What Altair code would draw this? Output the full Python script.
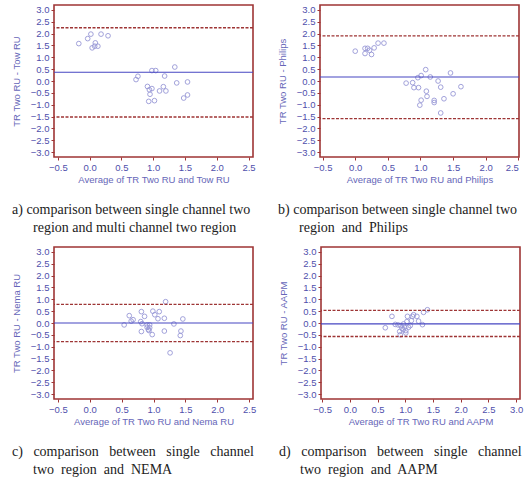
import altair as alt
import pandas as pd

# ---- data ----
a_x = [-0.17, -0.03, 0.02, 0.04, 0.09, 0.08, 0.13, 0.18, 0.29,
       0.73, 0.76, 0.98, 1.04, 1.34, 1.18, 0.91, 0.94, 0.98, 0.95,
       1.10, 1.16, 1.20, 1.37, 1.54, 0.93, 1.02, 1.48, 1.54]
a_y = [1.58, 1.79, 1.98, 1.40, 1.61, 1.47, 1.47, 1.98, 1.91,
       0.06, 0.20, 0.44, 0.44, 0.59, 0.21, -0.23, -0.37, -0.32, -0.56,
       -0.42, -0.24, -0.42, -0.08, -0.04, -0.86, -0.83, -0.72, -0.59]
a_lines = [0.37, 2.25, -1.52]

b_x = [0.00, 0.15, 0.19, 0.22, 0.15, 0.25, 0.29, 0.35, 0.44,
       0.78, 0.88, 0.90, 0.97, 0.96, 1.01, 1.08, 1.15, 1.09, 1.10, 1.01,
       0.99, 1.21, 1.21, 1.27, 1.31, 1.36, 1.46, 1.50, 1.62, 1.31]
b_y = [1.26, 1.38, 1.38, 1.30, 1.16, 1.12, 1.40, 1.60, 1.60,
       -0.09, -0.07, -0.28, -0.28, 0.14, 0.23, 0.48, 0.17, -0.43, -0.65, -0.81,
       -1.02, -0.82, -0.91, 0.00, -0.26, -0.75, 0.34, -0.54, -0.24, -1.35]
b_lines = [0.17, 1.91, -1.59]

c_x = [0.54, 0.62, 0.65, 0.68, 0.81, 0.80, 0.82, 0.81, 0.86, 0.90,
       0.90, 0.92, 0.94, 0.94, 0.93, 0.98, 0.99, 1.02, 1.07, 1.09,
       1.17, 1.19, 1.17, 1.32, 1.43, 1.42, 1.46, 1.26]
c_y = [-0.08, 0.31, 0.08, 0.14, 0.48, 0.06, -0.03, -0.36, 0.28, -0.08,
       -0.18, -0.28, -0.08, -0.20, -0.32, -0.49, 0.50, 0.35, 0.18, 0.48,
       0.20, 0.90, -0.34, -0.04, -0.34, -0.53, 0.17, -1.26]
c_lines = [0.00, 0.79, -0.79]

d_x = [0.64, 0.76, 0.82, 0.87, 0.90, 0.91, 0.92, 0.94, 0.97, 1.01,
       1.01, 1.03, 1.04, 1.06, 1.09, 1.11, 1.13, 1.15, 1.21, 1.24,
       1.31, 1.33, 1.40, 0.99, 0.96]
d_y = [-0.20, 0.28, -0.06, -0.08, -0.36, -0.50, -0.11, -0.22, -0.04, -0.32,
       -0.42, 0.06, 0.28, -0.18, -0.11, 0.10, 0.28, 0.35, 0.28, 0.08,
       -0.07, 0.45, 0.56, -0.18, -0.28]
d_lines = [-0.04, 0.53, -0.57]

y_ticks = [-3.0, -2.5, -2.0, -1.5, -1.0, -0.5, 0.0, 0.5, 1.0, 1.5, 2.0, 2.5, 3.0]
x_ticks_abc = [-0.5, 0.0, 0.5, 1.0, 1.5, 2.0, 2.5]
x_ticks_d = [-0.5, 0.0, 0.5, 1.0, 1.5, 2.0, 2.5, 3.0]

NB = "\u00a0"
ZW = "\u200b"
IND = ZW + NB * 6
W3 = NB * 3
captions = {
    "a": ["a) comparison between single channel two",
          IND + "region and multi channel two region"],
    "b": ["b) comparison between single channel two",
          IND + "region" + NB + " and" + NB + " Philips"],
    "c": ["c)" + W3 + "comparison" + W3 + "between" + W3 + "single" + W3 + "channel",
          IND + "two" + NB + " region" + NB + " and" + NB + " NEMA"],
    "d": ["d)" + W3 + "comparison" + W3 + "between" + W3 + "single" + W3 + "channel",
          IND + "two" + NB + " region" + NB + " and" + NB + " AAPM"],
}

RED = "#9e3535"
BLUE = "#4f4fab"
TITLE_BLUE = "#6666b8"
PT = "#9797d6"


def panel(xs, ys, lines, xtitle, ytitle, xticks, xdom, caption):
    pts = pd.DataFrame({"x": xs, "y": ys})
    xscale = alt.Scale(domain=xdom, nice=False, zero=False)
    yscale = alt.Scale(domain=[-3.21, 3.21], nice=False, zero=False)
    xaxis = alt.Axis(values=xticks, tickCount=len(xticks), format=".1f", title=xtitle,
                     grid=False, domain=False, tickColor=RED, tickSize=3, labelColor=BLUE,
                     labelFontSize=9.5, labelFont="Liberation Sans", labelPadding=2,
                     labelOverlap=False,
                     titleColor=TITLE_BLUE, titleFontSize=9.5, titleFont="Liberation Sans",
                     titleFontWeight="normal", titlePadding=3)
    yaxis = alt.Axis(values=y_ticks, tickCount=len(y_ticks), format=".1f", title=ytitle,
                     grid=False, domain=False, tickColor=RED, tickSize=3, labelColor=BLUE,
                     labelFontSize=9.5, labelFont="Liberation Sans", labelPadding=2,
                     labelOverlap=False,
                     titleColor=TITLE_BLUE, titleFontSize=9.5, titleFont="Liberation Sans",
                     titleFontWeight="normal", titlePadding=9)
    points = alt.Chart(pts).mark_point(shape="circle", filled=False, size=22,
                                       strokeWidth=0.9, color=PT, opacity=1).encode(
        x=alt.X("x:Q", scale=xscale, axis=xaxis),
        y=alt.Y("y:Q", scale=yscale, axis=yaxis),
    )
    mean = alt.Chart(pd.DataFrame({"v": [lines[0]]})).mark_rule(
        color="#4646c2", strokeWidth=1.2).encode(y=alt.Y("v:Q", scale=yscale, axis=yaxis))
    limits = alt.Chart(pd.DataFrame({"v": lines[1:]})).mark_rule(
        color=RED, strokeWidth=1.3, strokeDash=[3, 1.5]).encode(
        y=alt.Y("v:Q", scale=yscale, axis=yaxis))
    return alt.layer(points, limits, mean).properties(
        width=199, height=152,
        title=alt.TitleParams(text=caption, orient="bottom", anchor="start", frame="group",
                              dx=-42, offset=19, font="Liberation Serif", fontSize=14,
                              fontWeight="normal", color="#222222", lineHeight=18),
    )


pa = panel(a_x, a_y, a_lines, "Average of TR Two RU and Tow RU", "TR Two RU - Tow RU",
           x_ticks_abc, [-0.56, 2.57], captions["a"])
pb = panel(b_x, b_y, b_lines, "Average of TR Two RU and Philips", "TR Two RU - Philips",
           x_ticks_abc, [-0.54, 2.51], captions["b"])
pc = panel(c_x, c_y, c_lines, "Average of TR Two RU and Nema RU", "TR Two RU - Nema RU",
           x_ticks_abc, [-0.56, 2.56], captions["c"])
pd_ = panel(d_x, d_y, d_lines, "Average of TR Two RU and AAPM", "TR Two RU - AAPM",
            x_ticks_d, [-0.52, 3.07], captions["d"])

chart = alt.vconcat(
    alt.hconcat(pa, pb, spacing=20),
    alt.hconcat(pc, pd_, spacing=20),
    spacing=10,
).properties(
    padding={"left": 10, "top": 4, "right": 2, "bottom": 2},
    background="white",
).configure_view(stroke=RED, strokeWidth=1.6)

chart.save("out.html", embed_options={"renderer": "svg", "actions": False})
